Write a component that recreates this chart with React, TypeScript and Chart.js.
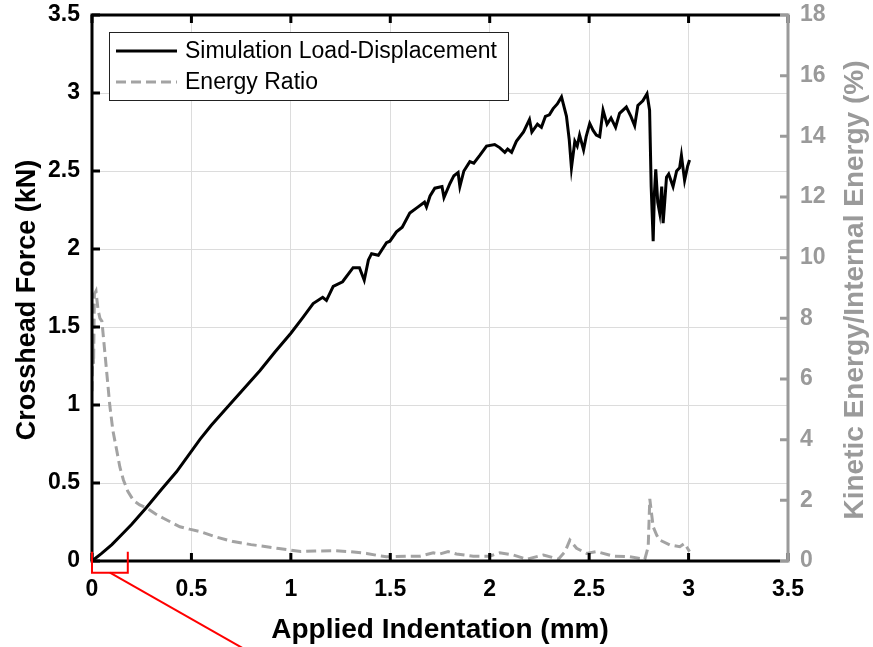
import React, { useEffect, useRef } from 'react';
import { Chart, registerables } from 'chart.js';

Chart.register(...registerables);

// ---------- data ----------
const loadX = [
  0.0, 0.05, 0.1, 0.15, 0.2, 0.275, 0.35, 0.425, 0.543, 0.6, 0.677, 0.76, 0.844, 0.92, 1.0, 1.06, 1.112,
  1.16, 1.179, 1.213, 1.26, 1.313, 1.345, 1.369, 1.39, 1.406, 1.44, 1.481, 1.498, 1.531, 1.56, 1.598,
  1.64, 1.672, 1.682, 1.7, 1.724, 1.76, 1.77, 1.8, 1.82, 1.841, 1.85, 1.87, 1.9, 1.92, 1.95, 1.984,
  2.025, 2.05, 2.076, 2.09, 2.11, 2.134, 2.17, 2.2, 2.212, 2.24, 2.26, 2.28, 2.3, 2.319, 2.34, 2.361,
  2.386, 2.4, 2.411, 2.428, 2.44, 2.452, 2.472, 2.485, 2.503, 2.52, 2.536, 2.553, 2.57, 2.59, 2.61,
  2.633, 2.653, 2.687, 2.71, 2.729, 2.745, 2.77, 2.791, 2.804, 2.812, 2.822, 2.828, 2.835, 2.845,
  2.855, 2.865, 2.872, 2.88, 2.889, 2.9, 2.922, 2.94, 2.955, 2.964, 2.98, 2.995, 3.005,
];
const loadF = [
  0.0, 0.05, 0.105, 0.17, 0.235, 0.345, 0.46, 0.572, 0.78, 0.87, 0.98, 1.1, 1.22, 1.34, 1.46, 1.56, 1.65,
  1.69, 1.67, 1.76, 1.79, 1.88, 1.88, 1.8, 1.93, 1.97, 1.96, 2.04, 2.05, 2.11, 2.14, 2.23,
  2.27, 2.3, 2.27, 2.34, 2.39, 2.4, 2.33, 2.42, 2.47, 2.49, 2.4, 2.5, 2.56, 2.55, 2.6, 2.66,
  2.67, 2.65, 2.62, 2.64, 2.62, 2.69, 2.75, 2.83, 2.75, 2.8, 2.78, 2.85, 2.86, 2.9, 2.93, 2.975,
  2.85, 2.7, 2.52, 2.69, 2.66, 2.73, 2.635, 2.72, 2.805, 2.76, 2.73, 2.72, 2.89, 2.8, 2.84,
  2.78, 2.87, 2.91, 2.85, 2.79, 2.92, 2.95, 2.995, 2.89, 2.4, 2.05, 2.35, 2.51, 2.3,
  2.23, 2.4, 2.165, 2.3, 2.46, 2.48, 2.4, 2.5, 2.52, 2.6, 2.44, 2.53, 2.57,
];

const energyX = [
  0.0, 0.004, 0.008, 0.012, 0.02, 0.03, 0.04, 0.05, 0.07, 0.09, 0.105, 0.124, 0.14, 0.158, 0.18,
  0.208, 0.24, 0.276, 0.32, 0.359, 0.4, 0.442, 0.49, 0.543, 0.62, 0.71, 0.8, 0.878, 0.94, 1.0,
  1.05, 1.12, 1.213, 1.297, 1.381, 1.43, 1.481, 1.582, 1.649, 1.716, 1.749, 1.791, 1.833, 1.917,
  2.0, 2.05, 2.117, 2.186, 2.27, 2.345, 2.379, 2.403, 2.437, 2.487, 2.537, 2.621, 2.705, 2.78,
  2.797, 2.805, 2.815, 2.822, 2.84, 2.855, 2.906, 2.956, 2.98, 3.005,
];
const energyR = [
  5.6, 7.2, 6.5, 8.8, 8.9, 8.3, 8.0, 7.9, 6.5, 5.1, 4.3, 3.66, 3.1, 2.67, 2.3,
  2.0, 1.85, 1.74, 1.55, 1.41, 1.27, 1.13, 1.05, 0.97, 0.8, 0.64, 0.54, 0.47, 0.41, 0.36,
  0.31, 0.33, 0.34, 0.31, 0.25, 0.19, 0.14, 0.16, 0.16, 0.27, 0.23, 0.31, 0.23, 0.16,
  0.16, 0.27, 0.2, 0.06, 0.2, 0.06, 0.31, 0.69, 0.42, 0.25, 0.31, 0.16, 0.14, 0.06,
  0.47, 2.05, 1.5, 1.13, 0.85, 0.69, 0.53, 0.47, 0.58, 0.31,
];

const xTicks = [0, 0.5, 1, 1.5, 2, 2.5, 3, 3.5];
const yTicks = [0, 0.5, 1, 1.5, 2, 2.5, 3, 3.5];
const y2Ticks = [0, 2, 4, 6, 8, 10, 12, 14, 16, 18];

const seriesNames = ['Simulation Load-Displacement', 'Energy Ratio'];
const xTitle = 'Applied Indentation (mm)';
const yTitle = 'Crosshead Force (kN)';
const y2Title = 'Kinetic Energy/Internal Energy (%)';

// red zoom-box annotation (data units of x / left y)
const zoomBoxX = [0, 0.18];
const zoomBoxY = [-0.075, 0.06];
const leaderStart = [0.09, -0.075];
const leaderEnd = [0.76, -0.56];

const FONT = '"Liberation Sans", Arial, sans-serif';
const GRAY = '#9a9a9a';
const LINE_GRAY = '#a3a3a3';

const framePlugin = {
  id: 'frame',
  afterDraw(chart: any) {
    const { ctx, chartArea: a, scales } = chart;
    const sx = scales.x, sy = scales.y, sy2 = scales.y2;
    ctx.save();
    // inward ticks
    ctx.lineCap = 'butt';
    ctx.strokeStyle = '#000';
    ctx.lineWidth = 3;
    ctx.beginPath();
    xTicks.forEach((v) => {
      const px = sx.getPixelForValue(v);
      ctx.moveTo(px, a.bottom);
      ctx.lineTo(px, a.bottom - 8);
      ctx.moveTo(px, a.top);
      ctx.lineTo(px, a.top + 8);
    });
    yTicks.forEach((v) => {
      const py = sy.getPixelForValue(v);
      ctx.moveTo(a.left, py);
      ctx.lineTo(a.left + 8, py);
    });
    ctx.stroke();
    ctx.strokeStyle = GRAY;
    ctx.beginPath();
    y2Ticks.forEach((v) => {
      const py = sy2.getPixelForValue(v);
      ctx.moveTo(a.right, py);
      ctx.lineTo(a.right - 8, py);
    });
    ctx.stroke();
    // black frame
    ctx.strokeStyle = '#000';
    ctx.lineWidth = 3;
    ctx.beginPath();
    ctx.moveTo(a.right - 8, a.top);
    ctx.lineTo(a.left, a.top);
    ctx.lineTo(a.left, a.bottom);
    ctx.lineTo(a.right - 8, a.bottom);
    ctx.stroke();
    // gray right axis
    ctx.strokeStyle = GRAY;
    ctx.beginPath();
    ctx.moveTo(a.right - 8, a.top);
    ctx.lineTo(a.right, a.top);
    ctx.lineTo(a.right, a.bottom);
    ctx.lineTo(a.right - 8, a.bottom);
    ctx.stroke();

    // y-axis titles (both read bottom-to-top)
    const drawVTitle = (text: string, x: number, y: number, color: string, size: number) => {
      ctx.save();
      ctx.translate(x, y);
      ctx.rotate(-Math.PI / 2);
      ctx.fillStyle = color;
      ctx.font = `bold ${size}px ${FONT}`;
      ctx.textAlign = 'center';
      ctx.textBaseline = 'middle';
      ctx.fillText(text, 0, 0);
      ctx.restore();
    };
    drawVTitle(yTitle, 28, 300, '#000', 27);
    drawVTitle(y2Title, 855, 290, GRAY, 28);

    // legend
    const lx = a.left + 17, ly = a.top + 17, lw = 399, lh = 68;
    ctx.fillStyle = '#fff';
    ctx.fillRect(lx, ly, lw, lh);
    ctx.strokeStyle = '#222';
    ctx.lineWidth = 1;
    ctx.strokeRect(lx + 0.5, ly + 0.5, lw, lh);
    const ds = chart.data.datasets;
    const rows = [ly + 19, ly + 50];
    rows.forEach((ry, i) => {
      ctx.strokeStyle = ds[i].borderColor;
      ctx.lineWidth = ds[i].borderWidth;
      ctx.setLineDash(ds[i].borderDash || []);
      ctx.beginPath();
      ctx.moveTo(lx + 7, ry);
      ctx.lineTo(lx + 68, ry);
      ctx.stroke();
      ctx.setLineDash([]);
      ctx.fillStyle = '#000';
      ctx.font = `23px ${FONT}`;
      ctx.textAlign = 'left';
      ctx.textBaseline = 'middle';
      ctx.fillText(seriesNames[i], lx + 76, ry + 1);
    });

    // red zoom box + leader
    ctx.strokeStyle = '#ff0000';
    ctx.lineWidth = 2;
    const bx0 = sx.getPixelForValue(zoomBoxX[0]);
    const bx1 = sx.getPixelForValue(zoomBoxX[1]);
    const by0 = sy.getPixelForValue(zoomBoxY[0]);
    const by1 = sy.getPixelForValue(zoomBoxY[1]);
    ctx.beginPath();
    ctx.moveTo(bx0, by1);
    ctx.lineTo(bx0, by0);
    ctx.lineTo(bx1, by0);
    ctx.lineTo(bx1, by1);
    ctx.stroke();
    ctx.beginPath();
    ctx.moveTo(sx.getPixelForValue(leaderStart[0]), sy.getPixelForValue(leaderStart[1]));
    ctx.lineTo(sx.getPixelForValue(leaderEnd[0]), sy.getPixelForValue(leaderEnd[1]));
    ctx.stroke();
    ctx.restore();
  },
};

const fmt = (v: any) => String(Number(v));

export default function App() {
  const ref = useRef<HTMLCanvasElement | null>(null);
  useEffect(() => {
    if (!ref.current) return;
    const tickFont = { family: FONT, size: 23, weight: 'bold' as const };
    const titleFont = { family: FONT, size: 28, weight: 'bold' as const };
    const chart = new Chart(ref.current, {
      type: 'line',
      data: {
        datasets: [
          {
            label: seriesNames[0],
            data: loadX.map((x, i) => ({ x, y: loadF[i] })),
            borderColor: '#000',
            borderWidth: 3,
            pointRadius: 0,
            tension: 0,
            yAxisID: 'y',
          },
          {
            label: seriesNames[1],
            data: energyX.map((x, i) => ({ x, y: energyR[i] })),
            borderColor: LINE_GRAY,
            borderWidth: 3,
            borderDash: [10, 5],
            pointRadius: 0,
            tension: 0,
            yAxisID: 'y2',
          },
        ] as any,
      },
      options: {
        responsive: false,
        maintainAspectRatio: false,
        animation: false,
        events: [],
        layout: { padding: { top: 15, left: 0, right: 0, bottom: 0 } },
        plugins: { legend: { display: false }, tooltip: { enabled: false } },
        scales: {
          x: {
            type: 'linear',
            min: 0,
            max: 3.5,
            afterBuildTicks: (s: any) => { s.ticks = xTicks.map((v) => ({ value: v })); },
            ticks: { padding: 15, font: tickFont, color: '#000', maxRotation: 0, callback: fmt },
            grid: { color: '#dcdcdc', lineWidth: 1, drawTicks: false },
            border: { display: false },
            title: { display: true, text: xTitle, font: titleFont, color: '#000', padding: { top: 6, bottom: 0 } },
            afterFit: (s: any) => { s.height = 86; s.paddingLeft = 0; s.paddingRight = 0; },
          },
          y: {
            position: 'left',
            min: 0,
            max: 3.5,
            afterBuildTicks: (s: any) => { s.ticks = yTicks.map((v) => ({ value: v })); },
            ticks: { padding: 12, font: tickFont, color: '#000', callback: fmt },
            grid: { color: '#dcdcdc', lineWidth: 1, drawTicks: false },
            border: { display: false },
            afterFit: (s: any) => { s.width = 92; s.paddingTop = 0; s.paddingBottom = 0; },
          },
          y2: {
            position: 'right',
            min: 0,
            max: 18,
            afterBuildTicks: (s: any) => { s.ticks = y2Ticks.map((v) => ({ value: v })); },
            ticks: { padding: 12, font: tickFont, color: GRAY, callback: fmt },
            grid: { display: false, drawTicks: false },
            border: { display: false },
            afterFit: (s: any) => { s.width = 85; s.paddingTop = 0; s.paddingBottom = 0; },
          },
        } as any,
      },
      plugins: [framePlugin],
    });
    return () => chart.destroy();
  }, []);
  return (
    <div style={{ position: 'fixed', left: 0, top: 0, width: 873, height: 647, background: '#fff' }}>
      <canvas ref={ref} width={873} height={647} style={{ width: 873, height: 647, display: 'block' }} />
    </div>
  );
}
